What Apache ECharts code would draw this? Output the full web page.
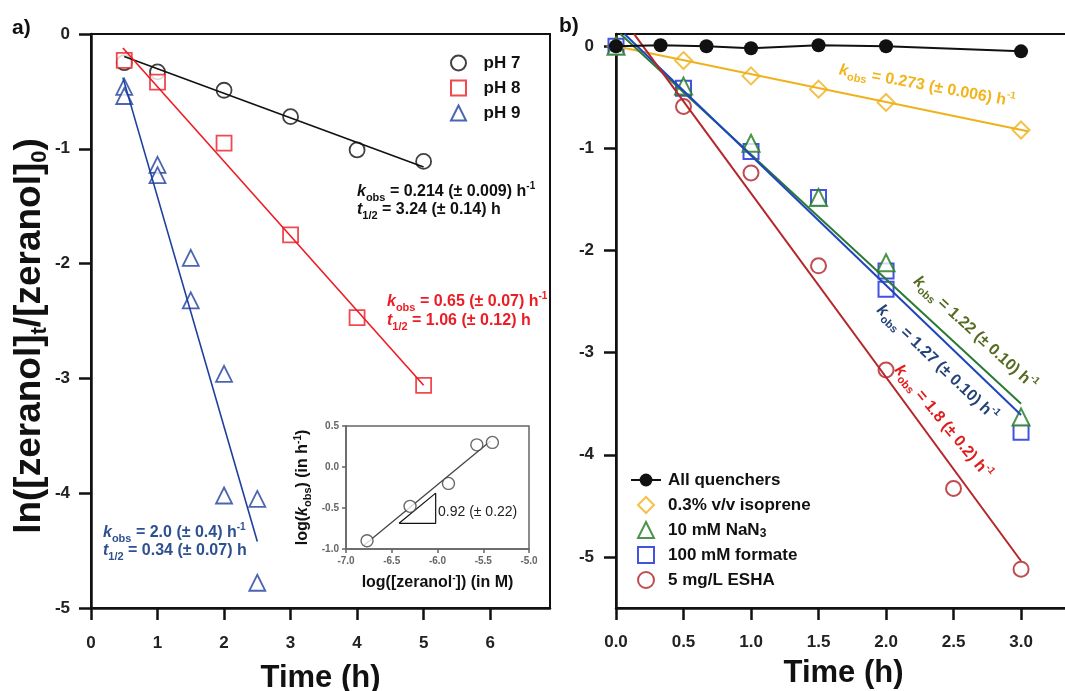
<!DOCTYPE html>
<html>
<head>
<meta charset="utf-8">
<script src="https://cdn.jsdelivr.net/npm/echarts@6/dist/echarts.min.js"></script>
<style>
  html, body { margin: 0; padding: 0; background: #fff; }
  #chart { width: 1065px; height: 691px; }
</style>
</head>
<body>
<div id="chart"></div>
<script>
// ---------- Panel a: zeranol loss at pH 7, 8 and 9 ----------
const timeA = [0.5, 1, 2, 3, 4, 5];
const pH7 = [-0.25, -0.33, -0.49, -0.72, -1.01, -1.11];
const pH8 = [-0.23, -0.42, -0.95, -1.75, -2.47, -3.06];
const pH9Time = [0.5, 0.5, 1, 1, 1.5, 1.5, 2, 2, 2.5, 2.5];
const pH9 = [-0.46, -0.54, -1.14, -1.23, -1.95, -2.32, -2.96, -4.02, -4.05, -4.78];
// first-order fits: ln(C/C0) = b - k t
const kObsA = [0.214, 0.65, 2.0];
const fitInterceptA = [-0.0885, 0.19, 0.58];
const fitRangeA = [[0.5, 5], [0.48, 5], [0.48, 2.5]];
const xTicksA = [0, 1, 2, 3, 4, 5, 6];
const yTicksA = [-5, -4, -3, -2, -1, 0];

// ---------- Inset: log k_obs vs log [zeranol-] ----------
const logConc = [-6.77, -6.30, -5.88, -5.57, -5.40];
const logK = [-0.90, -0.48, -0.20, 0.27, 0.30];
const insetSlope = 0.92;
const insetIntercept = 5.3036;
const insetFitRange = [-6.80, -5.42];
const slopeTriX = [-6.42, -6.02];
const slopeTriY = -0.687;

// ---------- Panel b: quencher experiments ----------
const quencherTime = [0, 0.33, 0.67, 1.0, 1.5, 2.0, 3.0];
const allQuenchers = [0, 0.01, 0, -0.02, 0.01, 0, -0.05];
const timeB = [0, 0.5, 1.0, 1.5, 2.0, 3.0];
const isoprene = [0, -0.14, -0.29, -0.42, -0.55, -0.82];
const nan3 = [0, -0.39, -0.95, -1.48, -2.12, -3.63];
const formateTime = [0, 0.5, 1.0, 1.5, 2.0, 2.0, 3.0];
const formate = [0, -0.41, -1.03, -1.48, -2.20, -2.38, -3.78];
const eshaTime = [0.5, 1.0, 1.5, 2.0, 2.5, 3.0];
const esha = [-0.59, -1.24, -2.15, -3.17, -4.33, -5.12];
// fits in the order isoprene, NaN3, formate, ESHA
const kObsB = [0.273, 1.22, 1.27, 1.8];
const fitInterceptB = [0, 0.16, 0.20, 0.36];
const fitRangeB = [[0, 3.05], [0.033, 3.0], [0.063, 3.0], [0.133, 3.0]];
const xTicksB = [0, 0.5, 1.0, 1.5, 2.0, 2.5, 3.0];
const yTicksB = [-5, -4, -3, -2, -1, 0];

const FONT = '"Liberation Sans", Arial, sans-serif';
const C = {
  black: '#111111',
  redA: '#ec1c24', blueA: '#1f3f9f', blueAText: '#2d5190',
  orange: '#f0b21c', orangeText: '#f2b41a',
  green: '#1d7a1d', greenLine: '#2a7a34', greenText: '#566b22',
  blueB: '#1428d8', blueBLine: '#1f45c0', blueBText: '#24427a',
  redB: '#b21f24', redBLine: '#b5262a', redBText: '#e01d1d'
};
// outline symbols kept square so legend icons are not stretched
const SQUARE = 'path://M0,0L10,0L10,10L0,10Z';
const TRIANGLE = 'path://M5,0L10,10L0,10Z';
const DIAMOND = 'path://M5,0L10,5L5,10L0,5Z';

const pairs = (xs, ys) => xs.map((x, i) => [x, ys[i]]);
const fitLine = (k, b, range) => range.map(t => [t, b - k * t]);

// rich-text styles for k_obs / t_1/2 annotations
function richFor(color, fs) {
  return {
    m: { fontSize: fs, fontWeight: 'bold', fill: color, fontFamily: FONT, lineHeight: fs + 6 },
    i: { fontSize: fs, fontWeight: 'bold', fontStyle: 'italic', fill: color, fontFamily: FONT, lineHeight: fs + 6 },
    sb: { fontSize: Math.round(fs * 0.68), fontWeight: 'bold', fill: color, fontFamily: FONT,
          lineHeight: Math.round(fs * 0.68), verticalAlign: 'bottom' },
    sp: { fontSize: Math.round(fs * 0.62), fontWeight: 'bold', fill: color, fontFamily: FONT,
          lineHeight: Math.round(fs * 0.62), verticalAlign: 'top' }
  };
}
const kText = s => '{i|k}{sb|obs}{m| = ' + s + ' h}{sp|-1}';
const tText = s => '{i|t}{sb|1/2}{m| = ' + s + ' h}';

function textEl(text, x, y, color, fs, opts) {
  opts = opts || {};
  return {
    type: 'text', x: x, y: y, rotation: opts.rot ? -opts.rot * Math.PI / 180 : 0, z: 50,
    style: { text: text, rich: richFor(color, fs), align: opts.align || 'left', verticalAlign: 'middle' }
  };
}

const tickLabel = { fontFamily: FONT, fontSize: 17, fontWeight: 'bold', color: '#222' };
const mainAxisLine = { onZero: false, lineStyle: { color: C.black, width: 2.5 } };
const mainTick = { length: 12, lineStyle: { color: C.black, width: 2.5 } };
const insetAxisLine = { onZero: false, lineStyle: { color: '#666', width: 1.5 } };
const insetTick = { length: 4, lineStyle: { color: '#666', width: 1.5 } };
const insetLabel = { fontFamily: FONT, fontSize: 10, fontWeight: 'bold', color: '#666', margin: 7,
                     formatter: v => v.toFixed(1) };
const insetNameStyle = {
  fontFamily: FONT, fontSize: 16, fontWeight: 'bold', color: '#111',
  rich: {
    m: { fontFamily: FONT, fontSize: 16, fontWeight: 'bold', color: '#111', lineHeight: 20 },
    i: { fontFamily: FONT, fontSize: 16, fontWeight: 'bold', fontStyle: 'italic', color: '#111', lineHeight: 20 },
    s: { fontFamily: FONT, fontSize: 11, fontWeight: 'bold', color: '#111', lineHeight: 11, verticalAlign: 'bottom' },
    p: { fontFamily: FONT, fontSize: 10, fontWeight: 'bold', color: '#111', lineHeight: 10, verticalAlign: 'top' }
  }
};
const bigName = { fontFamily: FONT, fontSize: 31, fontWeight: 'bold', color: '#111' };

const hollow = (color, w) => ({ color: '#fff', borderColor: color, borderWidth: w });

const option = {
  animation: false,
  backgroundColor: '#fff',
  textStyle: { fontFamily: FONT },
  grid: [
    { left: 91, top: 34, width: 459, height: 574, show: true, borderColor: C.black, borderWidth: 2,
      backgroundColor: 'transparent', containLabel: false, outerBoundsMode: 'none' },
    { left: 346, top: 426, width: 183, height: 123, show: true, borderColor: '#666', borderWidth: 1.5,
      backgroundColor: '#fff', z: 5, containLabel: false, outerBoundsMode: 'none' },
    { left: 616, top: 34, width: 455, height: 574, show: true, borderColor: C.black, borderWidth: 2,
      backgroundColor: 'transparent', containLabel: false, outerBoundsMode: 'none' }
  ],
  xAxis: [
    {
      gridIndex: 0, type: 'value', min: 0, max: 6.9,
      axisLine: mainAxisLine,
      axisTick: Object.assign({ customValues: xTicksA }, mainTick),
      axisLabel: Object.assign({ customValues: xTicksA, margin: 27 }, tickLabel),
      splitLine: { show: false },
      name: 'Time (h)', nameLocation: 'middle', nameGap: 55, nameTextStyle: bigName
    },
    {
      gridIndex: 1, type: 'value', min: -7, max: -5, interval: 0.5, z: 6,
      axisLine: insetAxisLine, axisTick: insetTick, axisLabel: insetLabel,
      splitLine: { show: false },
      name: '{m|log([zeranol}{p|-}{m|]) (in M)}', nameLocation: 'middle', nameGap: 24,
      nameTextStyle: insetNameStyle
    },
    {
      gridIndex: 2, type: 'value', min: 0, max: 3.37,
      axisLine: mainAxisLine,
      axisTick: Object.assign({ customValues: xTicksB }, mainTick),
      axisLabel: Object.assign({ customValues: xTicksB, margin: 26, formatter: v => v.toFixed(1) }, tickLabel),
      splitLine: { show: false },
      name: 'Time (h)', nameLocation: 'middle', nameGap: 50, nameTextStyle: bigName
    }
  ],
  yAxis: [
    {
      gridIndex: 0, type: 'value', min: -5, max: 0, interval: 1,
      axisLine: mainAxisLine, axisTick: mainTick,
      axisLabel: Object.assign({ margin: 21 }, tickLabel),
      splitLine: { show: false },
      name: '{m|ln([zeranol]}{s|t}{m|/[zeranol]}{s|0}{m|)}',
      nameLocation: 'middle', nameRotate: 90, nameGap: 40,
      nameTextStyle: {
        fontFamily: FONT, fontSize: 37, fontWeight: 'bold', color: '#111', padding: [0, 30, 0, 0],
        rich: {
          m: { fontFamily: FONT, fontSize: 37, fontWeight: 'bold', color: '#111', lineHeight: 42 },
          s: { fontFamily: FONT, fontSize: 22, fontWeight: 'bold', color: '#111', lineHeight: 22, verticalAlign: 'bottom' }
        }
      }
    },
    {
      gridIndex: 1, type: 'value', min: -1, max: 0.5, interval: 0.5, z: 6,
      axisLine: insetAxisLine, axisTick: insetTick, axisLabel: insetLabel,
      splitLine: { show: false },
      name: '{m|log(}{i|k}{s|obs}{m|) (in h}{p|-1}{m|)}',
      nameLocation: 'middle', nameRotate: 90, nameGap: 33,
      nameTextStyle: insetNameStyle
    },
    {
      gridIndex: 2, type: 'value', min: -5.5, max: 0.12,
      axisLine: mainAxisLine,
      axisTick: Object.assign({ customValues: yTicksB }, mainTick),
      axisLabel: Object.assign({ customValues: yTicksB, margin: 22 }, tickLabel),
      splitLine: { show: false }
    }
  ],
  legend: [
    {
      data: ['pH 7', 'pH 8', 'pH 9'],
      orient: 'vertical', left: 450, top: 53, padding: 0,
      itemWidth: 30, itemHeight: 15, itemGap: 5, selectedMode: false, symbolKeepAspect: true,
      textStyle: { fontFamily: FONT, fontSize: 17, fontWeight: 'bold', color: '#111', lineHeight: 20, padding: [0, 0, 0, 5] }
    },
    {
      data: ['All quenchers', '0.3% v/v isoprene', '10 mM NaN3', '100 mM formate', '5 mg/L ESHA'],
      orient: 'vertical', left: 630, top: 470, padding: 0,
      itemWidth: 30, itemHeight: 16, itemGap: 5, selectedMode: false, symbolKeepAspect: true,
      formatter: n => n === '10 mM NaN3' ? '{m|10 mM NaN}{s|3}' : '{m|' + n + '}',
      textStyle: {
        fontFamily: FONT, fontSize: 17, fontWeight: 'bold', color: '#111', lineHeight: 20, padding: [0, 0, 0, 2],
        rich: {
          m: { fontFamily: FONT, fontSize: 17, fontWeight: 'bold', color: '#111', lineHeight: 20 },
          s: { fontFamily: FONT, fontSize: 12, fontWeight: 'bold', color: '#111', lineHeight: 12, verticalAlign: 'bottom' }
        }
      }
    }
  ],
  series: [
    // panel a fit lines
    ...kObsA.map((k, i) => ({
      type: 'line', xAxisIndex: 0, yAxisIndex: 0, silent: true, symbol: 'none',
      data: fitLine(k, fitInterceptA[i], fitRangeA[i]),
      lineStyle: { color: [C.black, C.redA, C.blueA][i], width: 1.6 }
    })),
    {
      name: 'pH 7', type: 'scatter', xAxisIndex: 0, yAxisIndex: 0, clip: false, silent: true,
      symbol: 'circle', symbolSize: 15, itemStyle: hollow(C.black, 1.8),
      data: pairs(timeA, pH7)
    },
    {
      name: 'pH 8', type: 'scatter', xAxisIndex: 0, yAxisIndex: 0, clip: false, silent: true,
      symbol: SQUARE, symbolKeepAspect: true, symbolSize: 15, itemStyle: hollow(C.redA, 1.8),
      data: pairs(timeA, pH8)
    },
    {
      name: 'pH 9', type: 'scatter', xAxisIndex: 0, yAxisIndex: 0, clip: false, silent: true,
      symbol: TRIANGLE, symbolKeepAspect: true, symbolSize: 16, itemStyle: hollow(C.blueA, 1.8),
      data: pairs(pH9Time, pH9)
    },
    // inset
    {
      type: 'line', xAxisIndex: 1, yAxisIndex: 1, silent: true, symbol: 'none', z: 7,
      data: insetFitRange.map(x => [x, insetIntercept + insetSlope * x]),
      lineStyle: { color: '#444', width: 1.3 }
    },
    {
      type: 'line', xAxisIndex: 1, yAxisIndex: 1, silent: true, symbol: 'none', z: 7,
      data: [
        [slopeTriX[0], slopeTriY], [slopeTriX[1], slopeTriY],
        [slopeTriX[1], slopeTriY + insetSlope * (slopeTriX[1] - slopeTriX[0])], [slopeTriX[0], slopeTriY]
      ],
      lineStyle: { color: '#111', width: 1.2 }
    },
    {
      type: 'scatter', xAxisIndex: 1, yAxisIndex: 1, silent: true, clip: false, z: 8,
      symbol: 'circle', symbolSize: 12, itemStyle: hollow('#444', 1.4),
      data: pairs(logConc, logK)
    },
    // panel b fit lines
    ...kObsB.map((k, i) => ({
      type: 'line', xAxisIndex: 2, yAxisIndex: 2, silent: true, symbol: 'none',
      data: fitLine(k, fitInterceptB[i], fitRangeB[i]),
      lineStyle: { color: [C.orange, C.greenLine, C.blueBLine, C.redBLine][i], width: 2 }
    })),
    {
      name: 'All quenchers', type: 'line', xAxisIndex: 2, yAxisIndex: 2, silent: true, clip: false,
      symbol: 'circle', symbolSize: 14, itemStyle: { color: C.black },
      lineStyle: { color: C.black, width: 2 },
      data: pairs(quencherTime, allQuenchers)
    },
    {
      name: '0.3% v/v isoprene', type: 'scatter', xAxisIndex: 2, yAxisIndex: 2, silent: true, clip: false,
      symbol: DIAMOND, symbolKeepAspect: true, symbolSize: 17, itemStyle: hollow(C.orange, 2),
      data: pairs(timeB, isoprene)
    },
    {
      name: '5 mg/L ESHA', type: 'scatter', xAxisIndex: 2, yAxisIndex: 2, silent: true, clip: false,
      symbol: 'circle', symbolSize: 15, itemStyle: hollow(C.redB, 2),
      data: pairs(eshaTime, esha)
    },
    {
      name: '100 mM formate', type: 'scatter', xAxisIndex: 2, yAxisIndex: 2, silent: true, clip: false,
      symbol: SQUARE, symbolKeepAspect: true, symbolSize: 15, itemStyle: hollow(C.blueB, 2),
      data: pairs(formateTime, formate)
    },
    {
      name: '10 mM NaN3', type: 'scatter', xAxisIndex: 2, yAxisIndex: 2, silent: true, clip: false,
      symbol: TRIANGLE, symbolKeepAspect: true, symbolSize: 17, itemStyle: hollow(C.green, 2),
      data: pairs(timeB, nan3)
    }
  ],
  graphic: [
    { type: 'text', x: 12, y: 28, z: 50, style: { text: 'a)', fontFamily: FONT, fontSize: 21, fontWeight: 'bold', fill: '#111', verticalAlign: 'middle' } },
    { type: 'text', x: 559, y: 26, z: 50, style: { text: 'b)', fontFamily: FONT, fontSize: 21, fontWeight: 'bold', fill: '#111', verticalAlign: 'middle' } },
    textEl(kText('0.214 (± 0.009)'), 357, 192, '#111', 16),
    textEl(tText('3.24 (± 0.14)'), 357, 210, '#111', 16),
    textEl(kText('0.65 (± 0.07)'), 387, 302, C.redA, 16),
    textEl(tText('1.06 (± 0.12)'), 387, 321, C.redA, 16),
    textEl(kText('2.0 (± 0.4)'), 103, 533, C.blueAText, 16),
    textEl(tText('0.34 (± 0.07)'), 103, 551, C.blueAText, 16),
    { type: 'text', x: 438, y: 512, z: 60, style: { text: '0.92 (± 0.22)', fontFamily: FONT, fontSize: 14, fill: '#222', verticalAlign: 'middle' } },
    textEl(kText('0.273 (± 0.006)'), 927, 86, C.orangeText, 16, { align: 'center', rot: 10.4 }),
    textEl(kText('1.22 (± 0.10)'), 975, 333, C.greenText, 16, { align: 'center', rot: 42.4 }),
    textEl(kText('1.27 (± 0.10)'), 937, 363, C.blueBText, 16, { align: 'center', rot: 43.7 }),
    textEl(kText('1.8 (± 0.2)'), 943, 422, C.redBText, 16, { align: 'center', rot: 50.3 })
  ]
};

const chart = echarts.init(document.getElementById('chart'), null, { renderer: 'canvas' });
chart.setOption(option);
</script>
</body>
</html>
